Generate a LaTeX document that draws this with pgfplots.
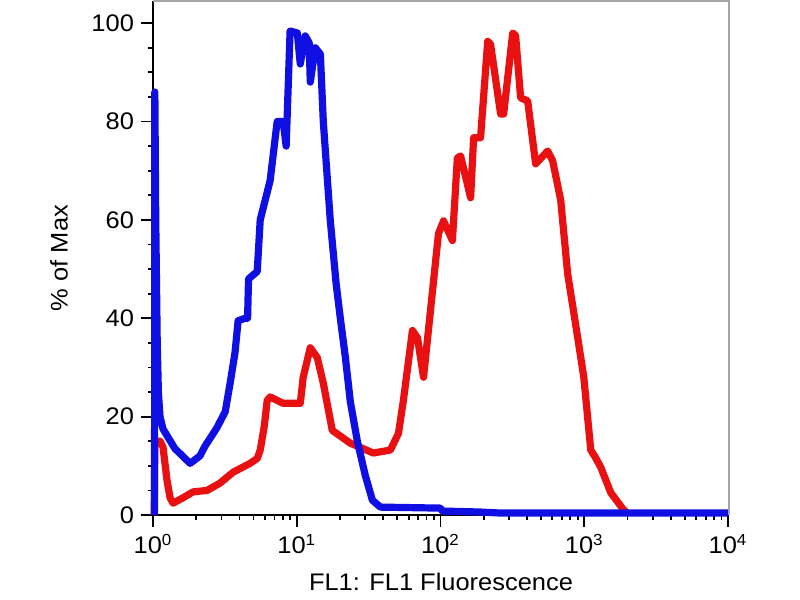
\documentclass[border=0pt]{standalone}
\usepackage{fontspec}
\setmainfont{Liberation Sans}[FakeStretch=1.06]
\usepackage{pgfplots}
\pgfplotsset{compat=1.18}
\definecolor{fblue}{RGB}{15,15,228}
\definecolor{fred}{RGB}{232,16,16}
\begin{document}
\begin{tikzpicture}
\begin{axis}[
  scale only axis,
  width=288pt, height=257pt,
  xmode=log, log basis x=10,
  xmin=1, xmax=10162,
  ymin=0, ymax=104.5,
  axis lines=left,
  axis line style={-, black, line width=1pt},
  tick align=outside,
  major tick length=6pt,
  minor tick length=2.5pt,
  every tick/.style={black, line width=0.9pt},
  xtick={1,10,100,1000,10000},
  minor xtick={2,3,4,5,6,7,8,9,20,30,40,50,60,70,80,90,200,300,400,500,600,700,800,900,2000,3000,4000,5000,6000,7000,8000,9000},
  xticklabels={10\textsuperscript{0},10\textsuperscript{1},10\textsuperscript{2},10\textsuperscript{3},10\textsuperscript{4}},
  ytick={0,20,40,60,80,100},
  minor y tick num=3,
  /pgf/number format/assume math mode=true,
  tick label style={font=\fontsize{12}{14}\selectfont},
  label style={font=\fontsize{12}{14}\selectfont},
  xlabel={FL1: FL1 Fluorescence},
  ylabel={\% of Max},
  xlabel style={at={(axis description cs:0.5,-0.13)}, anchor=center},
  ylabel style={at={(axis description cs:-0.163,0.5)}, anchor=center},
  clip=false,
]
\addplot[fred, line width=3.6pt, line join=round] coordinates {
(1.02,0) (1.03,15) (1.119,15) (1.174,13.8) (1.252,7) (1.314,3.5) (1.378,2.4)
(1.618,3.5) (1.90,4.7) (2.38,5) (2.93,6.5) (3.61,8.7) (4.74,10.5) (5.31,11.5)
(5.57,13.2) (5.94,18) (6.23,23.3) (6.53,24) (8.05,22.7) (10.58,22.7) (11.09,28)
(12.42,34) (13.9,32) (15.3,26.8) (17.67,17.2) (23.6,14.6) (34.1,12.6) (44.8,13.2)
(51.0,16.6) (55.2,23.3) (63.8,37.5) (69.2,36) (76.2,28) (85.2,41.6) (96.8,57.2)
(105,59.8) (121,55.8) (131,72.6) (138,73) (162,64.5) (170,76.7) (190,76.7)
(213,96.3) (223,95.7) (262,81.5) (275,81.5) (318,98) (333,97.5) (361,84.8)
(404,84.2) (459,71.4) (557,74) (603,72) (686,64) (767,49) (901,36) (993,28)
(1110,13.2) (1190,11.8) (1303,9.7) (1531,4.5) (1885,1) (2010,0.3)
};
\addplot[fblue, line width=3.6pt, line join=round] coordinates {
(1.025,0) (1.03,86) (1.045,60) (1.07,35) (1.09,25) (1.119,20) (1.174,17.5)
(1.42,13.5) (1.81,10.5) (2.12,12) (2.30,14) (2.55,16) (2.79,17.8) (3.18,21)
(3.44,26.8) (3.72,33) (3.91,39.5) (4.37,40) (4.55,40) (4.62,48) (5.31,49.5)
(5.57,60) (6.03,64) (6.53,68) (7.31,80) (8.04,80) (8.44,75) (8.99,98.4)
(10.09,98) (10.58,91.7) (11.45,97.4) (12.2,96) (12.42,88) (13.45,95) (14.6,93.7)
(15.3,80) (17.1,60) (18.8,47) (20.1,40) (21.8,32) (23.6,23) (26.4,15) (30.0,8)
(33.6,3) (38.2,1.6) (100,1.4) (103,0.8) (190,0.6) (260,0.4) (10000,0.4)
};
\draw[gray!70, line width=1pt] (rel axis cs:0,1) -- (rel axis cs:1,1) -- (rel axis cs:1,0);
\end{axis}
\pgfresetboundingbox
\path (-76.5pt,-42.5pt) rectangle (323.5pt,257.5pt);
\end{tikzpicture}
\end{document}
